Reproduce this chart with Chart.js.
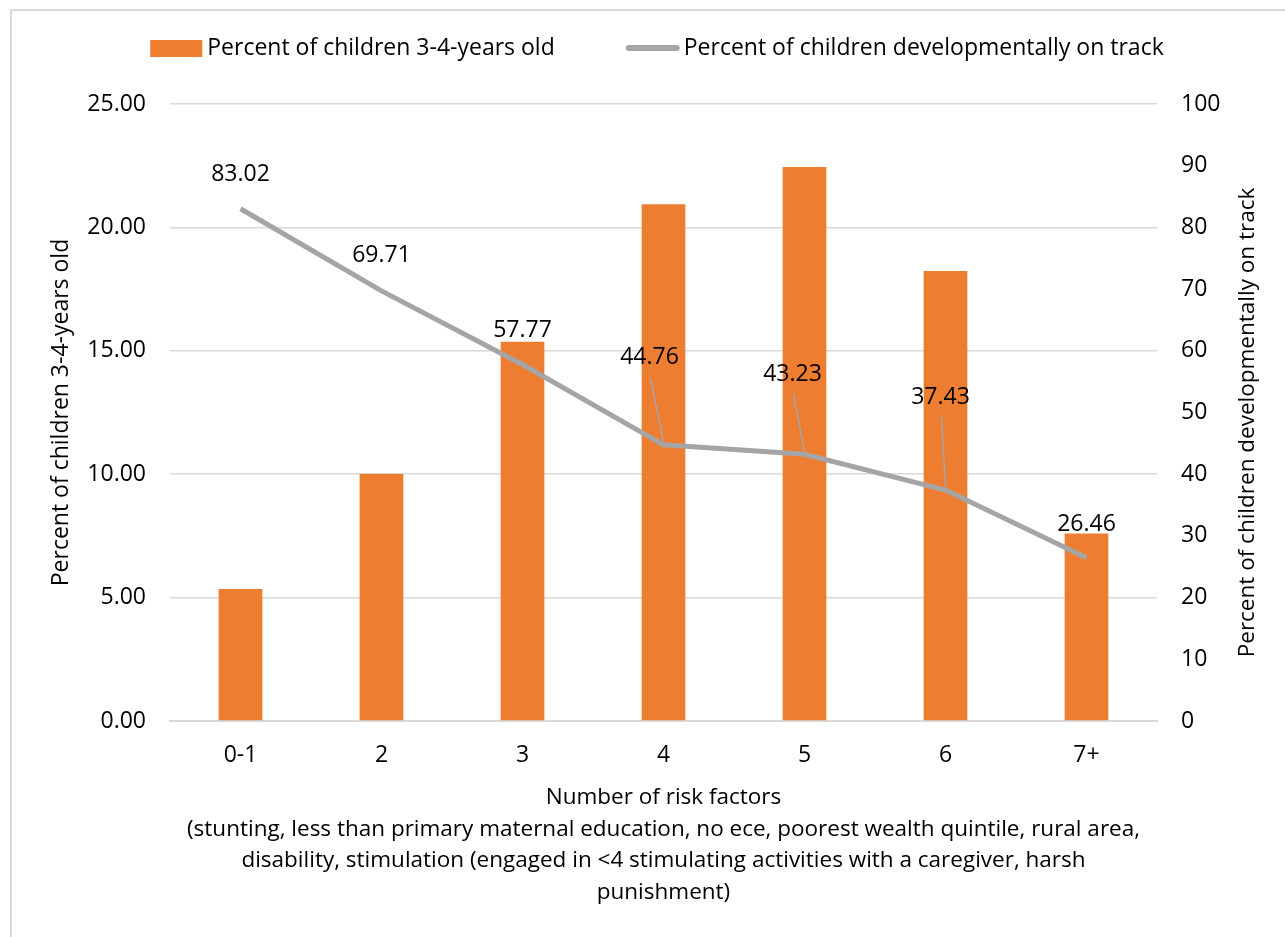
<!DOCTYPE html>
<html>
<head>
<meta charset="utf-8">
<title>Risk factors and developmental status</title>
<script src="https://cdn.jsdelivr.net/npm/chart.js@4.4.1/dist/chart.umd.min.js"></script>
<style>
  html, body { margin: 0; padding: 0; background: #fff; }
  #wrap { position: relative; width: 1285px; height: 937px; overflow: hidden; }
  #frame { position: absolute; left: 10px; top: 9px; right: -5px; bottom: -5px;
           border-top: 2px solid #d9d9d9; border-left: 2px solid #d9d9d9; }
  canvas { position: absolute; left: 0; top: 0; }
</style>
</head>
<body>
<div id="wrap">
  <div id="frame"></div>
  <canvas id="chart" width="1285" height="937"></canvas>
</div>
<script>
const categories = ['0-1', '2', '3', '4', '5', '6', '7+'];
const childrenShare = [5.35, 10.01, 15.37, 20.94, 22.45, 18.23, 7.60];
const onTrack = [83.02, 69.71, 57.77, 44.76, 43.23, 37.43, 26.46];

const barLabel = 'Percent of children 3-4-years old';
const lineLabel = 'Percent of children developmentally on track';
const xTitle = [
    'Number of risk factors',
    '(stunting, less than primary maternal education, no ece, poorest wealth quintile, rural area,',
    'disability, stimulation (engaged in <4 stimulating activities with a caregiver, harsh',
    'punishment)'
];

const ORANGE = '#ED7D31';
const GREY = '#A5A5A5';
const GRID = '#D9D9D9';
const TEXT_FONT = '"Open Sans", sans-serif';

// where each value label sits relative to its point (dx, dy, leader line?)
const labelOffsets = [
    [0, -34, false], [0, -35, false], [0, -34, false],
    [-14, -87, true], [-12, -80, true], [-5, -93, true], [0, -33, false]
];

const lineLabels = {
    id: 'lineLabels',
    afterDatasetsDraw(chart) {
        const ctx = chart.ctx;
        const meta = chart.getDatasetMeta(0);
        ctx.save();
        ctx.font = '23px ' + TEXT_FONT;
        ctx.fillStyle = '#000';
        ctx.textAlign = 'center';
        ctx.textBaseline = 'middle';
        meta.data.forEach((pt, i) => {
            const [dx, dy, leader] = labelOffsets[i];
            const lx = pt.x + dx, ly = pt.y + dy;
            if (leader) {
                ctx.strokeStyle = GREY;
                ctx.lineWidth = 1.5;
                ctx.beginPath();
                ctx.moveTo(lx + 1, ly + 20);
                ctx.lineTo(pt.x, pt.y - 3);
                ctx.stroke();
            }
            ctx.fillText(onTrack[i].toFixed(2), lx, ly);
        });
        ctx.restore();
    }
};

// legend row across the top, plus the right axis title read bottom-up
const extras = {
    id: 'extras',
    afterDraw(chart) {
        const ctx = chart.ctx;
        ctx.save();
        ctx.font = '23px ' + TEXT_FONT;
        ctx.fillStyle = '#000';
        ctx.textBaseline = 'middle';
        const w1 = ctx.measureText(barLabel).width;
        const w2 = ctx.measureText(lineLabel).width;
        const total = 52 + 5 + w1 + 71 + 54 + 4 + w2;
        let x = 657 - total / 2;
        const y = 48;
        ctx.fillStyle = ORANGE;
        ctx.fillRect(x, 40, 52, 17);
        x += 57;
        ctx.fillStyle = '#000';
        ctx.fillText(barLabel, x, y);
        x += w1 + 71;
        ctx.strokeStyle = GREY;
        ctx.lineWidth = 6;
        ctx.lineCap = 'round';
        ctx.beginPath();
        ctx.moveTo(x + 3, y);
        ctx.lineTo(x + 51, y);
        ctx.stroke();
        x += 58;
        ctx.fillText(lineLabel, x, y);

        const area = chart.chartArea;
        ctx.font = '22.5px ' + TEXT_FONT;
        ctx.textAlign = 'center';
        ctx.translate(1248, (area.top + area.bottom) / 2 + 10);
        ctx.rotate(-Math.PI / 2);
        ctx.fillText(lineLabel, 0, 0);
        ctx.restore();
    }
};

new Chart(document.getElementById('chart'), {
    data: {
        labels: categories,
        datasets: [
            {
                type: 'line',
                label: lineLabel,
                data: onTrack,
                yAxisID: 'yRight',
                borderColor: GREY,
                borderWidth: 5,
                pointRadius: 0,
                tension: 0,
                order: 0
            },
            {
                type: 'bar',
                label: barLabel,
                data: childrenShare,
                yAxisID: 'yLeft',
                backgroundColor: ORANGE,
                categoryPercentage: 1,
                barPercentage: 0.31,
                order: 1
            }
        ]
    },
    options: {
        responsive: false,
        animation: false,
        layout: { padding: { top: 104, left: 0, right: 0, bottom: 0 } },
        plugins: {
            legend: { display: false },
            tooltip: { enabled: false }
        },
        scales: {
            x: {
                grid: { display: false, drawTicks: false },
                border: { color: GRID, width: 2 },
                ticks: { color: '#000', font: { family: TEXT_FONT, size: 23 }, padding: 21 },
                title: {
                    display: true,
                    text: xTitle,
                    color: '#000',
                    font: { family: TEXT_FONT, size: 22.5, lineHeight: 1.4 },
                    padding: { top: 0, bottom: 29 }
                },
                afterFit(s) { s.height = 216; }
            },
            yLeft: {
                position: 'left',
                min: 0, max: 25,
                ticks: {
                    stepSize: 5, color: '#000', padding: 24,
                    font: { family: TEXT_FONT, size: 23 },
                    callback: v => v.toFixed(2)
                },
                grid: { color: GRID, lineWidth: 1.5, drawTicks: false },
                border: { display: false },
                title: {
                    display: true, text: barLabel, color: '#000',
                    font: { family: TEXT_FONT, size: 23 },
                    padding: { top: 48, bottom: 0 }
                },
                afterFit(s) { s.width = 170; }
            },
            yRight: {
                position: 'right',
                min: 0, max: 100,
                ticks: {
                    stepSize: 10, color: '#000', padding: 24,
                    font: { family: TEXT_FONT, size: 23 }
                },
                grid: { display: false, drawTicks: false },
                border: { display: false },
                afterFit(s) { s.width = 128; }
            }
        }
    },
    plugins: [lineLabels, extras]
});
</script>
</body>
</html>
